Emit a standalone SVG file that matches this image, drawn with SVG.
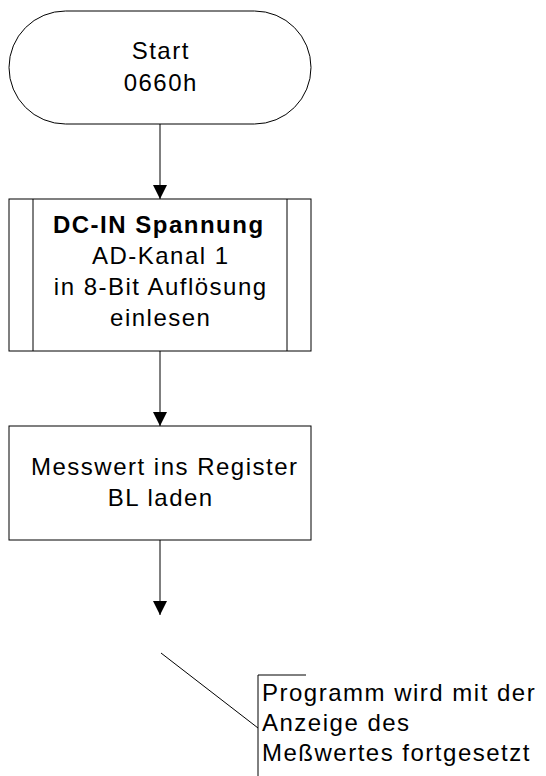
<svg xmlns="http://www.w3.org/2000/svg" width="546" height="776" viewBox="0 0 546 776">
<style>
.shape{fill:#fff;stroke:#000;stroke-width:1}
.ln{fill:none;stroke:#000;stroke-width:1}
text{font-family:"Liberation Sans",Arial,sans-serif;font-size:24px;letter-spacing:1.5px;fill:#000}
.c{text-anchor:middle}
.b{font-weight:bold}
</style>
<defs>
<marker id="arr" markerWidth="14" markerHeight="14" refX="14" refY="7" orient="auto" markerUnits="userSpaceOnUse">
<path d="M0,0 L14,7 L0,14 Z" fill="#000"/>
</marker>
</defs>
<g id="start">
<rect class="shape" x="9" y="11" width="302" height="113" rx="56.5" ry="56.5"/>
<text class="c" x="160.75" y="59">Start</text>
<text class="c" x="160.75" y="91">0660h</text>
</g>
<g id="dcin">
<rect class="shape" x="9" y="199" width="302" height="152"/>
<line class="ln" x1="33" y1="199" x2="33" y2="351"/>
<line class="ln" x1="287" y1="199" x2="287" y2="351"/>
<text class="c b" x="158.75" y="233">DC-IN Spannung</text>
<text class="c" x="160.75" y="264">AD-Kanal 1</text>
<text class="c" x="160.75" y="295">in 8-Bit Auflösung</text>
<text class="c" x="160.75" y="326">einlesen</text>
</g>
<g id="messwert">
<rect class="shape" x="9" y="426" width="302" height="114"/>
<text class="c" x="164.75" y="475">Messwert ins Register</text>
<text class="c" x="160.75" y="506">BL laden</text>
</g>
<g id="note">
<path class="ln" d="M306,675 H258 V776"/>
<text x="262" y="701">Programm wird mit der</text>
<text x="262" y="731">Anzeige des</text>
<text x="262" y="761">Meßwertes fortgesetzt</text>
</g>
<g id="connectors">
<line class="ln" x1="160" y1="124" x2="160" y2="199" marker-end="url(#arr)"/>
<line class="ln" x1="160" y1="351" x2="160" y2="426" marker-end="url(#arr)"/>
<line class="ln" x1="160" y1="540" x2="160" y2="615" marker-end="url(#arr)"/>
<line class="ln" x1="161" y1="653" x2="258" y2="728"/>
</g>
</svg>
